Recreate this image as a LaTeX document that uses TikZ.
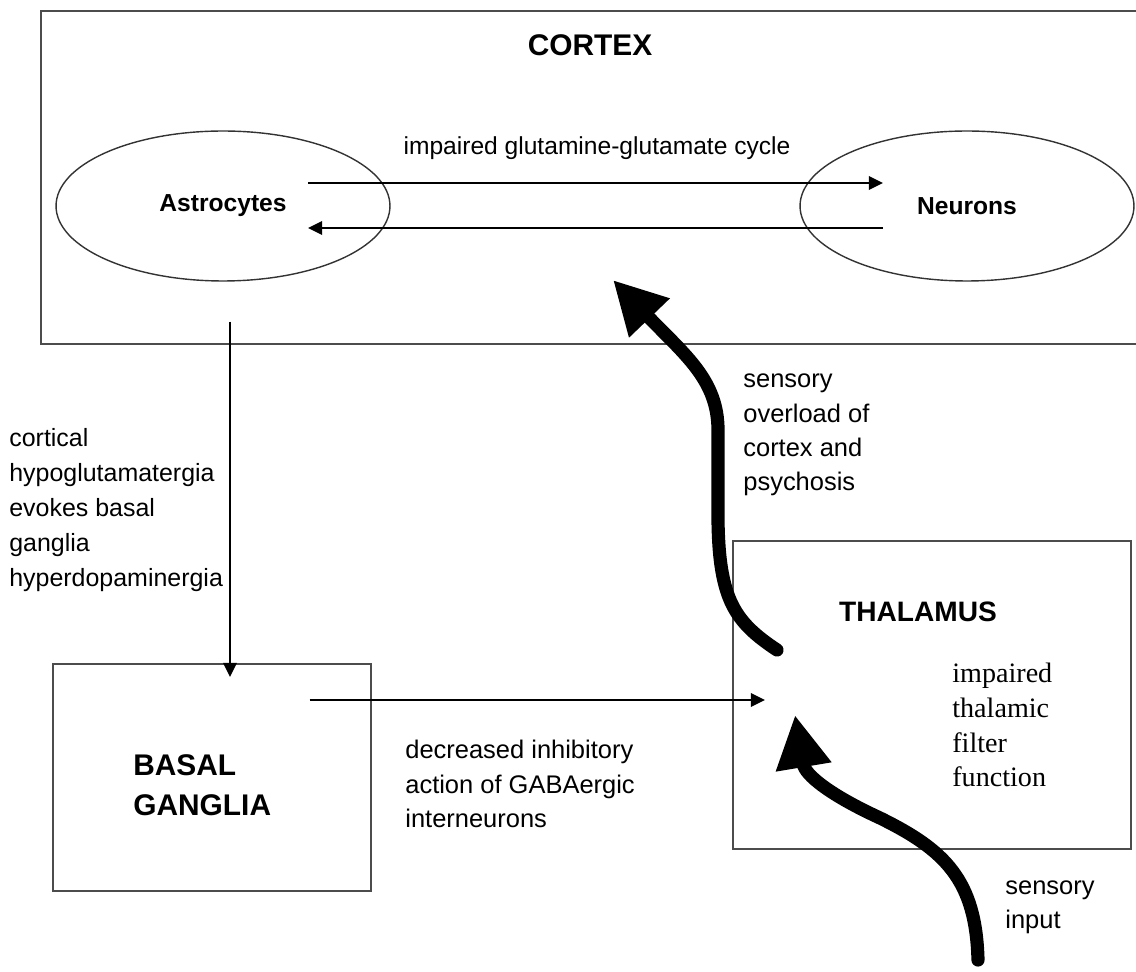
\documentclass[tikz,border=0pt]{standalone}
\usepackage{fontspec}
\setmainfont{Liberation Sans}
\newfontfamily\thalfont{Liberation Serif}
\usetikzlibrary{arrows.meta,calc,positioning,shapes.geometric}

\begin{document}
\begin{tikzpicture}[x=0.02cm,y=-0.02cm,inner sep=0pt,
	region/.style={rectangle,draw=black!70,line width=1pt,anchor=north west},
	cell/.style={ellipse,draw=black!80,line width=0.8pt,minimum width=6.68cm,minimum height=3cm,font=\fontsize{14}{17}\selectfont\bfseries},
	thin/.style={line width=1.6pt,-{Triangle[length=8pt,width=7.5pt]}},
	fat/.style={line width=7.5pt,line cap=round,-{Triangle[length=30pt,width=30pt]}},
	txt/.style={align=left,anchor=west,font=\fontsize{14.5}{19.5}\selectfont},
	title/.style={font=\fontsize{17}{22.7}\selectfont\bfseries}]
		\useasboundingbox (0,0) rectangle (1136,972);
		\node [region,minimum width=22cm,minimum height=6.66cm] (cortex) at (40,10) {};
		\node [title] (ctitle) at (590,45) {CORTEX};
		\node [cell] (astro) at (223,206) {Astrocytes};
		\node [cell] (neuro) at (967,206) {Neurons};
		\node [txt,anchor=center,font=\fontsize{14}{17}\selectfont] (cycle) at (597,148) {impaired glutamine-glutamate cycle};
		\draw [thin] ($(astro.center)+(85,-23)$) -- ($(neuro.center)+(-84,-23)$);
		\draw [thin] ($(neuro.center)+(-84,22)$) -- ($(astro.center)+(85,22)$);
		\node [region,minimum width=6.36cm,minimum height=4.54cm] (basal) at (52,663) {};
		\node [title,align=left,anchor=west] (btitle) at (133,785) {BASAL\\GANGLIA};
		\node [region,minimum width=7.96cm,minimum height=6.16cm] (thal) at (732,540) {};
		\node [title,font=\fontsize{16}{19}\selectfont\bfseries] (ttitle) at (918,612) {THALAMUS};
		\node [txt,font=\thalfont\fontsize{16}{19.8}\selectfont] (filter) at (952,725) {impaired\\thalamic\\filter\\function};
		\node [txt,font=\fontsize{14.2}{19.8}\selectfont] (hypo) at (9,510) {cortical\\hypoglutamatergia\\evokes basal\\ganglia\\hyperdopaminergia};
		\node [txt] (gaba) at (405,784) {decreased inhibitory\\action of GABAergic\\interneurons};
		\node [txt] (overload) at (743,435) {sensory\\overload of\\cortex and\\psychosis};
		\node [txt] (input) at (1005,907) {sensory\\input};
		\coordinate (gate) at (765,700);
		\coordinate (relay) at (777,650);
		\coordinate (cortin) at (613,280);
		\coordinate (entry) at (795,715);
		\coordinate (periph) at (978,960);
		\draw [thin] ($(cortex.south west)+(190,-23)$) -- ($(basal.north west)+(178,14)$);
		\draw [thin] ($(basal.north east)+(-62,37)$) -- (gate);
		\draw [fat] (relay) .. controls (735,622) and (719,600) .. (718,520) -- (718,430) .. controls (718,380) and (685,355) .. (cortin);
		\draw [fat] (periph) .. controls (976,880) and (945,850) .. (880,818) .. controls (830,795) and (805,775) .. (entry);
\end{tikzpicture}
\end{document}
